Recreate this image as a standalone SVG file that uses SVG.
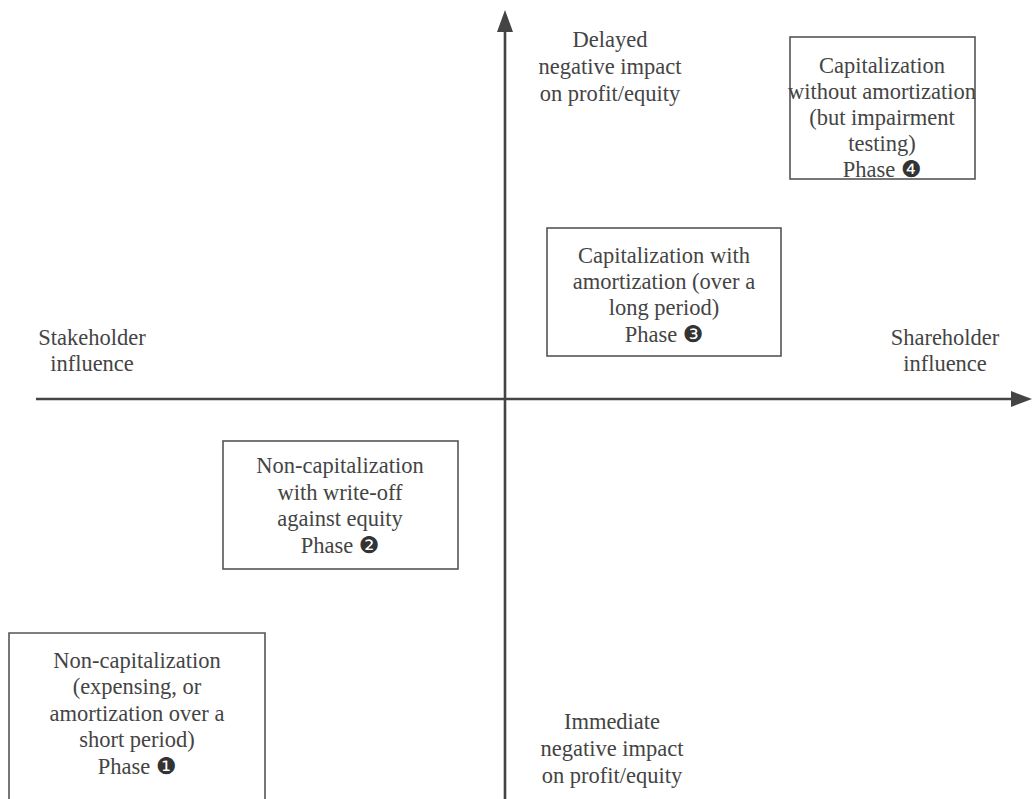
<svg xmlns="http://www.w3.org/2000/svg" width="1032" height="799" viewBox="0 0 1032 799">
<style>
  .t { font-size: 22.5px; fill: #444; text-anchor: middle; }
  .box { fill: none; stroke: #555; stroke-width: 1.6; }
  .axis { stroke: #444; stroke-width: 2.6; fill: none; }
  .head { fill: #444; }
  .dg { font-size: 23px; fill: #333; }
</style>
<rect width="1032" height="799" fill="#fff"/>
<g id="connectors">
  <line class="axis" x1="505" y1="799" x2="505" y2="28"/>
  <polygon class="head" points="505,10 497,32 513,32"/>
  <line class="axis" x1="36" y1="399" x2="1014" y2="399"/>
  <polygon class="head" points="1032,399 1011,391 1011,407"/>
</g>
<g id="label-delayed">
  <text class="t" font-family="Liberation Serif" x="610" y="47">Delayed</text>
  <text class="t" font-family="Liberation Serif" x="610" y="74">negative impact</text>
  <text class="t" font-family="Liberation Serif" x="610" y="101">on profit/equity</text>
</g>
<g id="label-immediate">
  <text class="t" font-family="Liberation Serif" x="612" y="729">Immediate</text>
  <text class="t" font-family="Liberation Serif" x="612" y="756">negative impact</text>
  <text class="t" font-family="Liberation Serif" x="612" y="783">on profit/equity</text>
</g>
<g id="label-stakeholder">
  <text class="t" font-family="Liberation Serif" x="92" y="345">Stakeholder</text>
  <text class="t" font-family="Liberation Serif" x="92" y="371">influence</text>
</g>
<g id="label-shareholder">
  <text class="t" font-family="Liberation Serif" x="945" y="345">Shareholder</text>
  <text class="t" font-family="Liberation Serif" x="945" y="371">influence</text>
</g>
<g id="phase4">
  <rect class="box" x="790" y="37" width="185" height="142"/>
  <text class="t" font-family="Liberation Serif" x="882" y="73">Capitalization</text>
  <text class="t" font-family="Liberation Serif" x="882" y="99">without amortization</text>
  <text class="t" font-family="Liberation Serif" x="882" y="125">(but impairment</text>
  <text class="t" font-family="Liberation Serif" x="882" y="151">testing)</text>
  <text class="t" font-family="Liberation Serif" x="882" y="177">Phase <tspan class="dg" font-family="DejaVu Sans">❹</tspan></text>
</g>
<g id="phase3">
  <rect class="box" x="547" y="228" width="234" height="128"/>
  <text class="t" font-family="Liberation Serif" x="664" y="263">Capitalization with</text>
  <text class="t" font-family="Liberation Serif" x="664" y="289">amortization (over a</text>
  <text class="t" font-family="Liberation Serif" x="664" y="315">long period)</text>
  <text class="t" font-family="Liberation Serif" x="664" y="342">Phase <tspan class="dg" font-family="DejaVu Sans">❸</tspan></text>
</g>
<g id="phase2">
  <rect class="box" x="223" y="441" width="235" height="128"/>
  <text class="t" font-family="Liberation Serif" x="340" y="473">Non-capitalization</text>
  <text class="t" font-family="Liberation Serif" x="340" y="500">with write-off</text>
  <text class="t" font-family="Liberation Serif" x="340" y="526">against equity</text>
  <text class="t" font-family="Liberation Serif" x="340" y="553">Phase <tspan class="dg" font-family="DejaVu Sans">❷</tspan></text>
</g>
<g id="phase1">
  <path class="box" d="M9,800 V633 H265 V800"/>
  <text class="t" font-family="Liberation Serif" x="137" y="668">Non-capitalization</text>
  <text class="t" font-family="Liberation Serif" x="137" y="694">(expensing, or</text>
  <text class="t" font-family="Liberation Serif" x="137" y="721">amortization over a</text>
  <text class="t" font-family="Liberation Serif" x="137" y="747">short period)</text>
  <text class="t" font-family="Liberation Serif" x="137" y="774">Phase <tspan class="dg" font-family="DejaVu Sans">❶</tspan></text>
</g>
</svg>
